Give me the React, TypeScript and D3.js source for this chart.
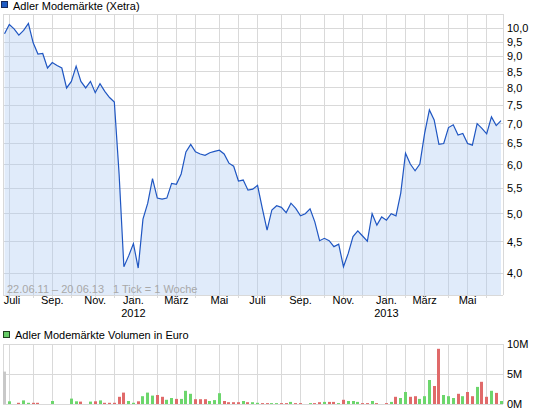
import React from "react";
import * as d3 from "d3";

// Weekly closing prices (EUR), 22.06.11 – 20.06.13
const prices = [
  9.8, 10.14, 9.98, 9.75, 9.92, 10.18, 9.47, 9.08, 9.1, 8.62,
  8.8, 8.7, 8.62, 8.0, 8.2, 8.68, 8.2, 8.0, 8.2, 7.86,
  8.13, 7.9, 7.72, 7.59, 5.8, 4.1, 4.27, 4.47, 4.08, 4.9,
  5.2, 5.7, 5.3, 5.28, 5.3, 5.6, 5.58, 5.8, 6.3, 6.48,
  6.3, 6.25, 6.22, 6.28, 6.31, 6.34, 6.25, 6.04, 5.97, 5.65,
  5.67, 5.46, 5.48, 5.56, 5.1, 4.7, 5.07, 5.15, 5.12, 5.02,
  5.2, 5.1, 4.96, 5.0, 5.09, 4.85, 4.52, 4.56, 4.52, 4.42,
  4.46, 4.1, 4.31, 4.59, 4.69, 4.6, 4.51, 5.0, 4.79, 4.94,
  4.88, 5.0, 4.96, 5.4, 6.27, 6.02, 5.87, 6.02, 6.75, 7.37,
  7.1, 6.48, 6.5, 6.9, 6.97, 6.71, 6.75, 6.5, 6.46, 7.0,
  6.88, 6.74, 7.18, 6.95, 7.08,
];

// Weekly volume in million EUR
const volumes = [
  5.4, 0.45, 0, 0.2, 0.6, 0.2, 0.2, 0.2, 0, 0,
  0.5, 0, 0, 0, 0.9, 0.45, 0.4, 0, 0.4, 0.45,
  0.6, 0.2, 0.2, 0.2, 1.2, 1.9, 0.5, 0.2, 0.45, 1.3,
  1.9, 1.4, 1.5, 1.2, 0.7, 1.0, 0.85, 0.85, 2.2, 1.7,
  0.8, 0.8, 0.8, 0.5, 0.65, 1.8, 0.5, 0.3, 0.3, 0.3,
  0.5, 0.3, 0.3, 0.2, 0.15, 0.15, 0.15, 0.15, 0.15, 0.15,
  0.35, 0.15, 0.15, 0, 0.15, 0.15, 0.3, 0.35, 0.35, 0.35,
  0.15, 0.7, 0.5, 0.5, 0.35, 0.15, 0.15, 0.5, 0.15, 0,
  0.15, 0.35, 1.2, 1.0, 2.0, 1.2, 1.3, 0.85, 1.3, 4.0,
  3.0, 9.2, 1.5, 1.3, 1.0, 1.7, 1.3, 2.0, 1.3, 2.85,
  3.7, 1.2, 2.2, 1.85, 0.5,
];

// Week index of the first tick of each month (Jul 2011 … Jun 2013)
const monthTickIdx = [1, 6, 10, 14, 19, 23, 27, 32, 36, 40, 45, 49, 53, 58, 62, 67, 71, 75, 80, 84, 88, 93, 97, 101];
const monthLabels = ["Juli", "", "Sep.", "", "Nov.", "", "Jan.", "", "März", "", "Mai", "", "Juli", "", "Sep.", "", "Nov.", "", "Jan.", "", "März", "", "Mai", ""];
const yearLabels = ["", "", "", "", "", "", "2012", "", "", "", "", "", "", "", "", "", "", "", "2013", "", "", "", "", ""];

const priceTicks = [4.0, 4.5, 5.0, 5.5, 6.0, 6.5, 7.0, 7.5, 8.0, 8.5, 9.0, 9.5, 10.0];
const volumeTicks = [0, 5, 10];

const titlePrice = "Adler Modemärkte (Xetra)";
const titleVolume = "Adler Modemärkte Volumen in Euro";
const rangeNote = "22.06.11 – 20.06.13";
const tickNote = "1 Tick = 1 Woche";

const W = 545;
const H = 413;
const P = { left: 3, right: 503, top: 14, bottom: 295 };
const V = { top: 344, bottom: 404 };
const FONT = "'Liberation Sans', Arial, sans-serif";
const GRID = "#d9d9d9";

export default function App() {
  const x = d3.scaleLinear().domain([0, prices.length - 1]).range([4.53, 501.0]);
  const y = d3.scaleLog().domain([3.689, 10.549]).range([P.bottom, P.top]);
  const yv = d3.scaleLinear().domain([0, 10]).range([V.bottom, V.top]);
  const fmt = (v: number) => d3.format(".1f")(v).replace(".", ",");
  const crisp = (v: number) => Math.floor(v) + 0.5;

  const line = d3.line<number>().x((_, i) => x(i)).y((d) => y(d));
  const area = d3.area<number>().x((_, i) => x(i)).y0(P.bottom).y1((d) => y(d));

  const barColor = (i: number) => {
    if (i === 0) return "#c8c8c8";
    return prices[i] >= prices[i - 1] ? "#6cd66c" : "#e06a6a";
  };

  return (
    <svg width={W} height={H} style={{ position: "absolute", left: 0, top: 0, background: "#fff" }} fontFamily={FONT}>
      {/* Price legend */}
      <rect x={1.5} y={1.5} width={6} height={6} fill="#1f5cc4" stroke="#1a2a5a" />
      <text x={13} y={10} fontSize={11} fill="#000">{titlePrice}</text>

      {/* Price grid */}
      {priceTicks.map((t) => (
        <line key={"h" + t} x1={P.left} x2={P.right} y1={crisp(y(t))} y2={crisp(y(t))} stroke={GRID} />
      ))}
      {monthTickIdx.map((m) => (
        <line key={"v" + m} x1={crisp(x(m))} x2={crisp(x(m))} y1={P.top} y2={P.bottom + 3} stroke={GRID} />
      ))}
      <line x1={P.left} x2={P.right} y1={P.top + 0.5} y2={P.top + 0.5} stroke={GRID} />
      <line x1={P.left + 0.5} x2={P.left + 0.5} y1={P.top} y2={P.bottom} stroke={GRID} />
      <line x1={P.right + 0.5} x2={P.right + 0.5} y1={P.top} y2={P.bottom} stroke={GRID} />
      <line x1={P.left} x2={P.right} y1={P.bottom + 0.5} y2={P.bottom + 0.5} stroke={GRID} />

      {/* Area + line */}
      <path d={area(prices) || ""} fill="rgba(170,200,240,0.36)" />
      <path d={line(prices) || ""} fill="none" stroke="#1f56c2" strokeWidth={1.2} />

      <text x={7} y={293} fontSize={11} fill="#a8a8a8">{rangeNote}</text>
      <text x={113} y={293} fontSize={11} fill="#a8a8a8">{tickNote}</text>

      {/* Price axis labels */}
      {priceTicks.map((t) => (
        <text key={"l" + t} x={507} y={y(t)} dy="0.35em" fontSize={11} fill="#000">{fmt(t)}</text>
      ))}

      {/* Month labels */}
      {monthTickIdx.map((m, k) =>
        monthLabels[k] ? (
          <text key={"ml" + m} x={Math.max(x(m), 12)} y={304} fontSize={11} textAnchor="middle" fill="#000">{monthLabels[k]}</text>
        ) : null
      )}
      {monthTickIdx.map((m, k) =>
        yearLabels[k] ? (
          <text key={"yl" + m} x={x(m)} y={317} fontSize={11} textAnchor="middle" fill="#000">{yearLabels[k]}</text>
        ) : null
      )}

      {/* Volume legend */}
      <rect x={3.5} y={331.5} width={6} height={6} fill="#66cc66" stroke="#1f3f1f" />
      <text x={15} y={339} fontSize={11} fill="#000">{titleVolume}</text>

      {/* Volume grid */}
      {volumeTicks.map((t) => (
        <line key={"vh" + t} x1={P.left} x2={P.right} y1={crisp(yv(t))} y2={crisp(yv(t))} stroke={GRID} />
      ))}
      {monthTickIdx.map((m) => (
        <line key={"vv" + m} x1={crisp(x(m))} x2={crisp(x(m))} y1={V.top} y2={V.bottom} stroke={GRID} />
      ))}
      <line x1={P.left + 0.5} x2={P.left + 0.5} y1={V.top} y2={V.bottom} stroke={GRID} />
      <line x1={P.right + 0.5} x2={P.right + 0.5} y1={V.top} y2={V.bottom} stroke={GRID} />

      {/* Volume bars */}
      {volumes.map((v, i) =>
        v > 0 ? (
          <rect key={"b" + i} x={Math.round(x(i) - 1.5)} width={3} y={yv(v)} height={V.bottom - yv(v)} fill={barColor(i)} />
        ) : null
      )}

      {volumeTicks.map((t) => (
        <text key={"vl" + t} x={507} y={yv(t)} dy="0.35em" fontSize={11} fill="#000">{t + "M"}</text>
      ))}
    </svg>
  );
}
